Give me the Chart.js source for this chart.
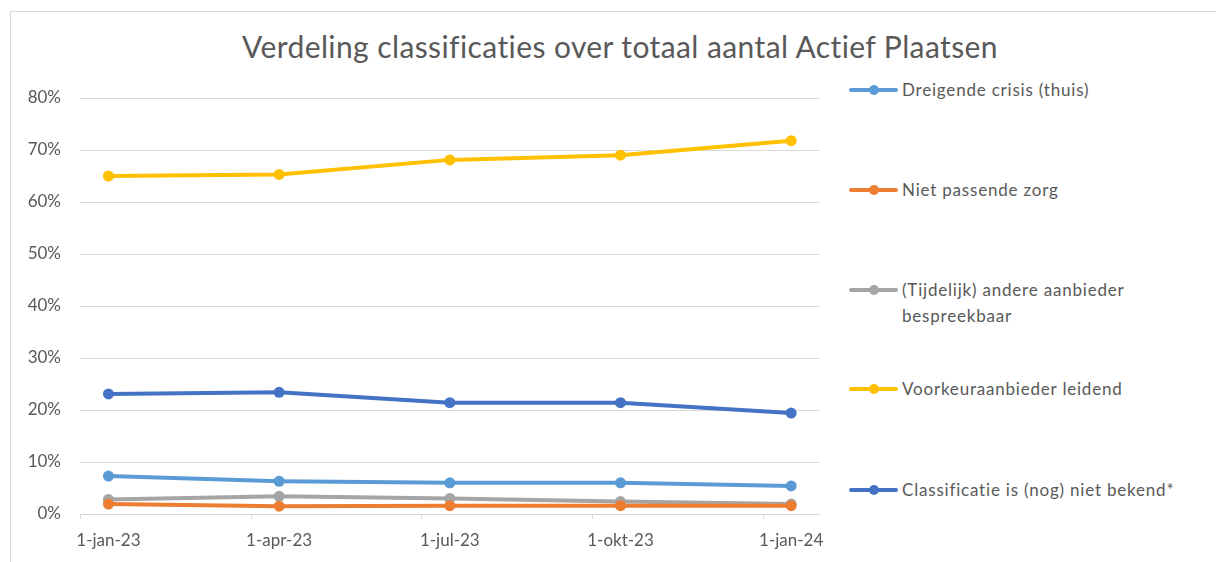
<!DOCTYPE html>
<html>
<head>
<meta charset="utf-8">
<script src="https://cdn.jsdelivr.net/npm/chart.js@4.4.1/dist/chart.umd.min.js"></script>
<style>
  html, body { margin: 0; padding: 0; background: #fff; }
  body { width: 1216px; height: 562px; position: relative; overflow: hidden; font-family: Lato, "Open Sans", sans-serif; }
  .frame { position: absolute; left: 10px; top: 11px; width: 1400px; height: 700px; border: 1px solid #d9d9d9; }
  .title { position: absolute; left: 0; top: 28px; width: 1240px; text-align: center; font-size: 30px; letter-spacing: 0.4px; color: #595959; }
  #chartWrap { position: absolute; left: 0; top: 0; width: 840px; height: 562px; }
  .legend-item { position: absolute; left: 849px; font-size: 17px; letter-spacing: 0.8px; color: #595959; line-height: 26px; }
  .legend-line { position: absolute; left: 0; top: 11px; width: 49px; height: 4px; border-radius: 2px; }
  .legend-dot { position: absolute; left: 20px; top: 8px; width: 10px; height: 10px; border-radius: 50%; }
  .legend-text { position: absolute; left: 53px; top: 0; width: 340px; }
</style>
</head>
<body>
<div class="frame"></div>
<div class="title">Verdeling classificaties over totaal aantal Actief Plaatsen</div>
<div id="chartWrap"><canvas id="klasChart" width="840" height="562"></canvas></div>
<div id="klasLegend"></div>

<script>
// maanden sinds 1-jan-23 en de labels op de as
const maanden = [0, 3, 6, 9, 12];
const datumLabels = ["1-jan-23", "1-apr-23", "1-jul-23", "1-okt-23", "1-jan-24"];

// percentages per classificatie
const dreigendeCrisis = [7.3, 6.3, 6.0, 6.0, 5.4];
const nietPassend = [1.9, 1.5, 1.6, 1.6, 1.6];
const andereAanbieder = [2.8, 3.4, 3.0, 2.4, 1.9];
const voorkeurAanbieder = [65.0, 65.3, 68.1, 69.0, 71.8];
const nietBekend = [23.1, 23.4, 21.4, 21.4, 19.4];

const yTicks = [0, 10, 20, 30, 40, 50, 60, 70, 80];

const punten = (arr) => arr.map((v, i) => ({ x: maanden[i], y: v }));

const lijn = (label, data, kleur) => ({
  label: label,
  data: punten(data),
  borderColor: kleur,
  backgroundColor: kleur,
  borderWidth: 4,
  pointRadius: 5.5,
  pointBorderWidth: 0,
  tension: 0,
});

// kleine streepjes onder de as, tussen de maanden (zoals Excel)
const asStreepjes = {
  id: "asStreepjes",
  afterDraw(chart) {
    const x = chart.scales.x;
    const ctx = chart.ctx;
    ctx.save();
    ctx.strokeStyle = "#d9d9d9";
    ctx.lineWidth = 1;
    maanden.forEach((m) => {
      const px = Math.round(x.getPixelForValue(m - 0.5)) + 0.5;
      ctx.beginPath();
      ctx.moveTo(px, chart.chartArea.bottom);
      ctx.lineTo(px, chart.chartArea.bottom + 5);
      ctx.stroke();
    });
    ctx.restore();
  },
};

const klas = document.getElementById("klasChart");

const chartKlas = new Chart(klas, {
  type: "line",
  data: {
    datasets: [
      lijn("Dreigende crisis (thuis)", dreigendeCrisis, "#5b9bd5"),
      lijn("Niet passende zorg", nietPassend, "#ed7d31"),
      lijn("(Tijdelijk) andere aanbieder bespreekbaar", andereAanbieder, "#a5a5a5"),
      lijn("Voorkeuraanbieder leidend", voorkeurAanbieder, "#ffc000"),
      lijn("Classificatie is (nog) niet bekend*", nietBekend, "#4472c4"),
    ],
  },
  options: {
    responsive: false,
    animation: false,
    layout: {
      padding: { top: 98, right: 18, bottom: 0, left: 0 },
    },
    plugins: {
      legend: { display: false },
      tooltip: { enabled: false },
    },
    scales: {
      x: {
        type: "linear",
        min: -0.5,
        max: 12.5,
        afterFit: (s) => { s.height = 48; },
        afterBuildTicks: (s) => { s.ticks = maanden.map((m) => ({ value: m })); },
        grid: { display: false, drawTicks: false },
        border: { display: true, color: "#d9d9d9", width: 1 },
        ticks: {
          padding: 16,
          autoSkip: false,
          maxRotation: 0,
          color: "#595959",
          font: { family: "Lato", size: 17 },
          callback: (v) => datumLabels[maanden.indexOf(v)],
        },
      },
      y: {
        min: 0,
        max: 80,
        afterFit: (s) => { s.width = 80; },
        afterBuildTicks: (s) => { s.ticks = yTicks.map((t) => ({ value: t })); },
        grid: { color: "#d9d9d9", drawTicks: false },
        border: { display: false },
        ticks: {
          padding: 19,
          color: "#595959",
          font: { family: "Lato", size: 17 },
          callback: (v) => v + "%",
        },
      },
    },
  },
  plugins: [asStreepjes],
});

// legenda rechts
const legendKlas = document.getElementById("klasLegend");
const legendTop = [77, 177, 277, 376, 477];

chartKlas.data.datasets.forEach((dataset, index) => {
  const item = document.createElement("div");
  item.className = "legend-item";
  item.style.top = legendTop[index] + "px";
  const tekst = dataset.label === "(Tijdelijk) andere aanbieder bespreekbaar"
    ? "(Tijdelijk) andere aanbieder<br>bespreekbaar"
    : dataset.label;
  item.innerHTML = `
    <span class="legend-line" style="background:${dataset.borderColor}"></span>
    <span class="legend-dot" style="background:${dataset.borderColor}"></span>
    <span class="legend-text">${tekst}</span>
  `;
  legendKlas.appendChild(item);
});
</script>
</body>
</html>
